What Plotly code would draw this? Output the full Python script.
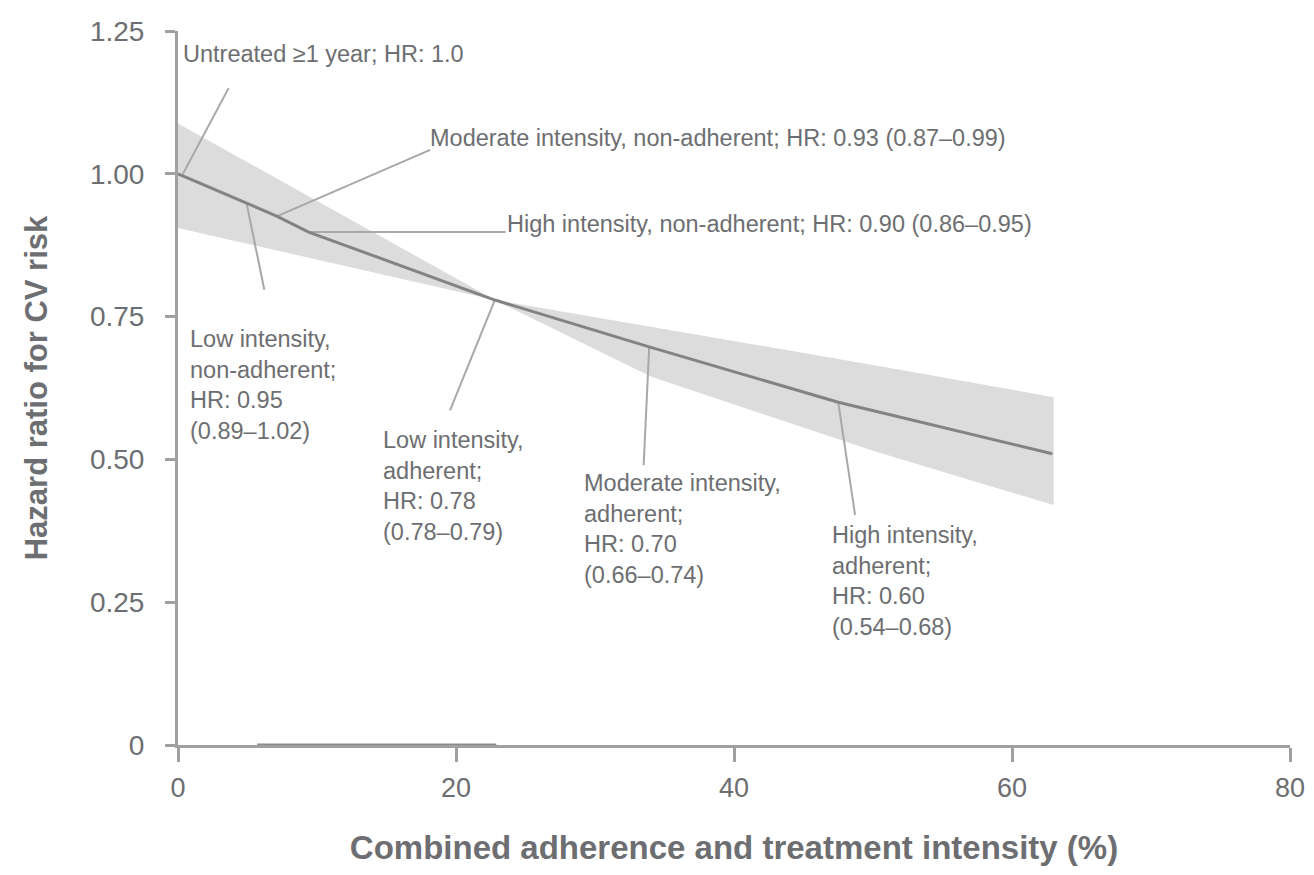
import plotly.graph_objects as go

# Main fitted HR curve
curve_x = [0, 4.9, 7.1, 9.4, 22.8, 33.9, 47.5, 62.9]
curve_y = [1.0, 0.949, 0.926, 0.898, 0.779, 0.697, 0.600, 0.510]

# Confidence band
band_x = [0, 22.8, 50.1, 63.0]
band_upper = [1.088, 0.779, 0.665, 0.609]
band_lower_x = [0, 22.8, 34.0, 50.0, 63.0]
band_lower = [0.905, 0.779, 0.645, 0.515, 0.42]

# Baseline overlay segment on x-axis
base_x = [5.7, 22.9]
base_y = [0, 0]

# Annotation labels, connectors (x0,y0)->(x1,y1), and text anchors
labels = [
    "Untreated ≥1 year; HR: 1.0",
    "Moderate intensity, non-adherent; HR: 0.93 (0.87–0.99)",
    "High intensity, non-adherent; HR: 0.90 (0.86–0.95)",
    "Low intensity,<br>non-adherent;<br>HR: 0.95<br>(0.89–1.02)",
    "Low intensity,<br>adherent;<br>HR: 0.78<br>(0.78–0.79)",
    "Moderate intensity,<br>adherent;<br>HR: 0.70<br>(0.66–0.74)",
    "High intensity,<br>adherent;<br>HR: 0.60<br>(0.54–0.68)",
]
conn_x0 = [0.36, 7.14, 9.43, 4.93, 22.79, 33.9, 47.5]
conn_y0 = [1.0, 0.926, 0.898, 0.949, 0.779, 0.697, 0.600]
conn_x1 = [3.64, 18.14, 23.57, 6.21, 19.57, 33.5, 48.71]
conn_y1 = [1.150, 1.042, 0.898, 0.797, 0.586, 0.490, 0.403]
text_x = [0.2, 17.95, 23.5, 0.7, 14.6, 29.05, 46.9]
text_y = [1.209, 1.062, 0.912, 0.737, 0.560, 0.485, 0.394]
text_anchor_y = ["middle", "middle", "middle", "top", "top", "top", "top"]

TEXT = "#6d6e71"
AXIS = "#a0a0a0"
FONT = "Liberation Sans, Arial, sans-serif"

fig = go.Figure()

fig.add_trace(go.Scatter(
    x=band_x + band_lower_x[::-1],
    y=band_upper + band_lower[::-1],
    fill="toself", fillcolor="#dcdcdc", line=dict(width=0),
    mode="lines", hoverinfo="skip", showlegend=False,
))

for i in range(len(labels)):
    fig.add_trace(go.Scatter(
        x=[conn_x0[i], conn_x1[i]], y=[conn_y0[i], conn_y1[i]],
        mode="lines", line=dict(color="#a8a8a8", width=2),
        hoverinfo="skip", showlegend=False,
    ))

fig.add_trace(go.Scatter(
    x=curve_x, y=curve_y, mode="lines",
    line=dict(color="#838383", width=3),
    hoverinfo="skip", showlegend=False,
))

fig.add_trace(go.Scatter(
    x=base_x, y=base_y, mode="lines",
    line=dict(color="#8a8a8a", width=3),
    hoverinfo="skip", showlegend=False, cliponaxis=False,
))

for i in range(len(labels)):
    fig.add_annotation(
        x=text_x[i], y=text_y[i], text=labels[i], showarrow=False,
        xanchor="left", yanchor=text_anchor_y[i], align="left",
        font=dict(family=FONT, size=23.5, color=TEXT),
    )

fig.update_layout(
    template="none",
    width=1306, height=858,
    margin=dict(l=170, r=24, t=23, b=121),
    plot_bgcolor="white", paper_bgcolor="white",
    font=dict(family=FONT, color=TEXT),
    showlegend=False,
)
fig.update_xaxes(
    range=[0, 80], tickvals=[0, 20, 40, 60, 80],
    automargin=False,
    showgrid=False, zeroline=False,
    showline=True, linecolor=AXIS, linewidth=3,
    ticks="outside", ticklen=14, tickwidth=3, tickcolor=AXIS,
    tickfont=dict(family=FONT, size=27, color=TEXT),
    ticklabelstandoff=3, ticklabeloverflow="allow",
    title=dict(text="<b>Combined adherence and treatment intensity (%)</b>",
               font=dict(family=FONT, size=33, color=TEXT), standoff=39),
)
fig.update_yaxes(
    range=[0, 1.25], tickvals=[0, 0.25, 0.5, 0.75, 1.0, 1.25],
    ticktext=["0", "0.25", "0.50", "0.75", "1.00", "1.25"],
    automargin=False,
    showgrid=False, zeroline=False,
    showline=True, linecolor=AXIS, linewidth=3,
    ticks="outside", ticklen=10, tickwidth=3, tickcolor=AXIS,
    tickfont=dict(family=FONT, size=28, color=TEXT),
    ticklabelstandoff=15, ticklabeloverflow="allow",
    title=dict(text="<b>Hazard ratio for CV risk</b>",
               font=dict(family=FONT, size=31, color=TEXT), standoff=34),
)

fig.write_html("out.html")
